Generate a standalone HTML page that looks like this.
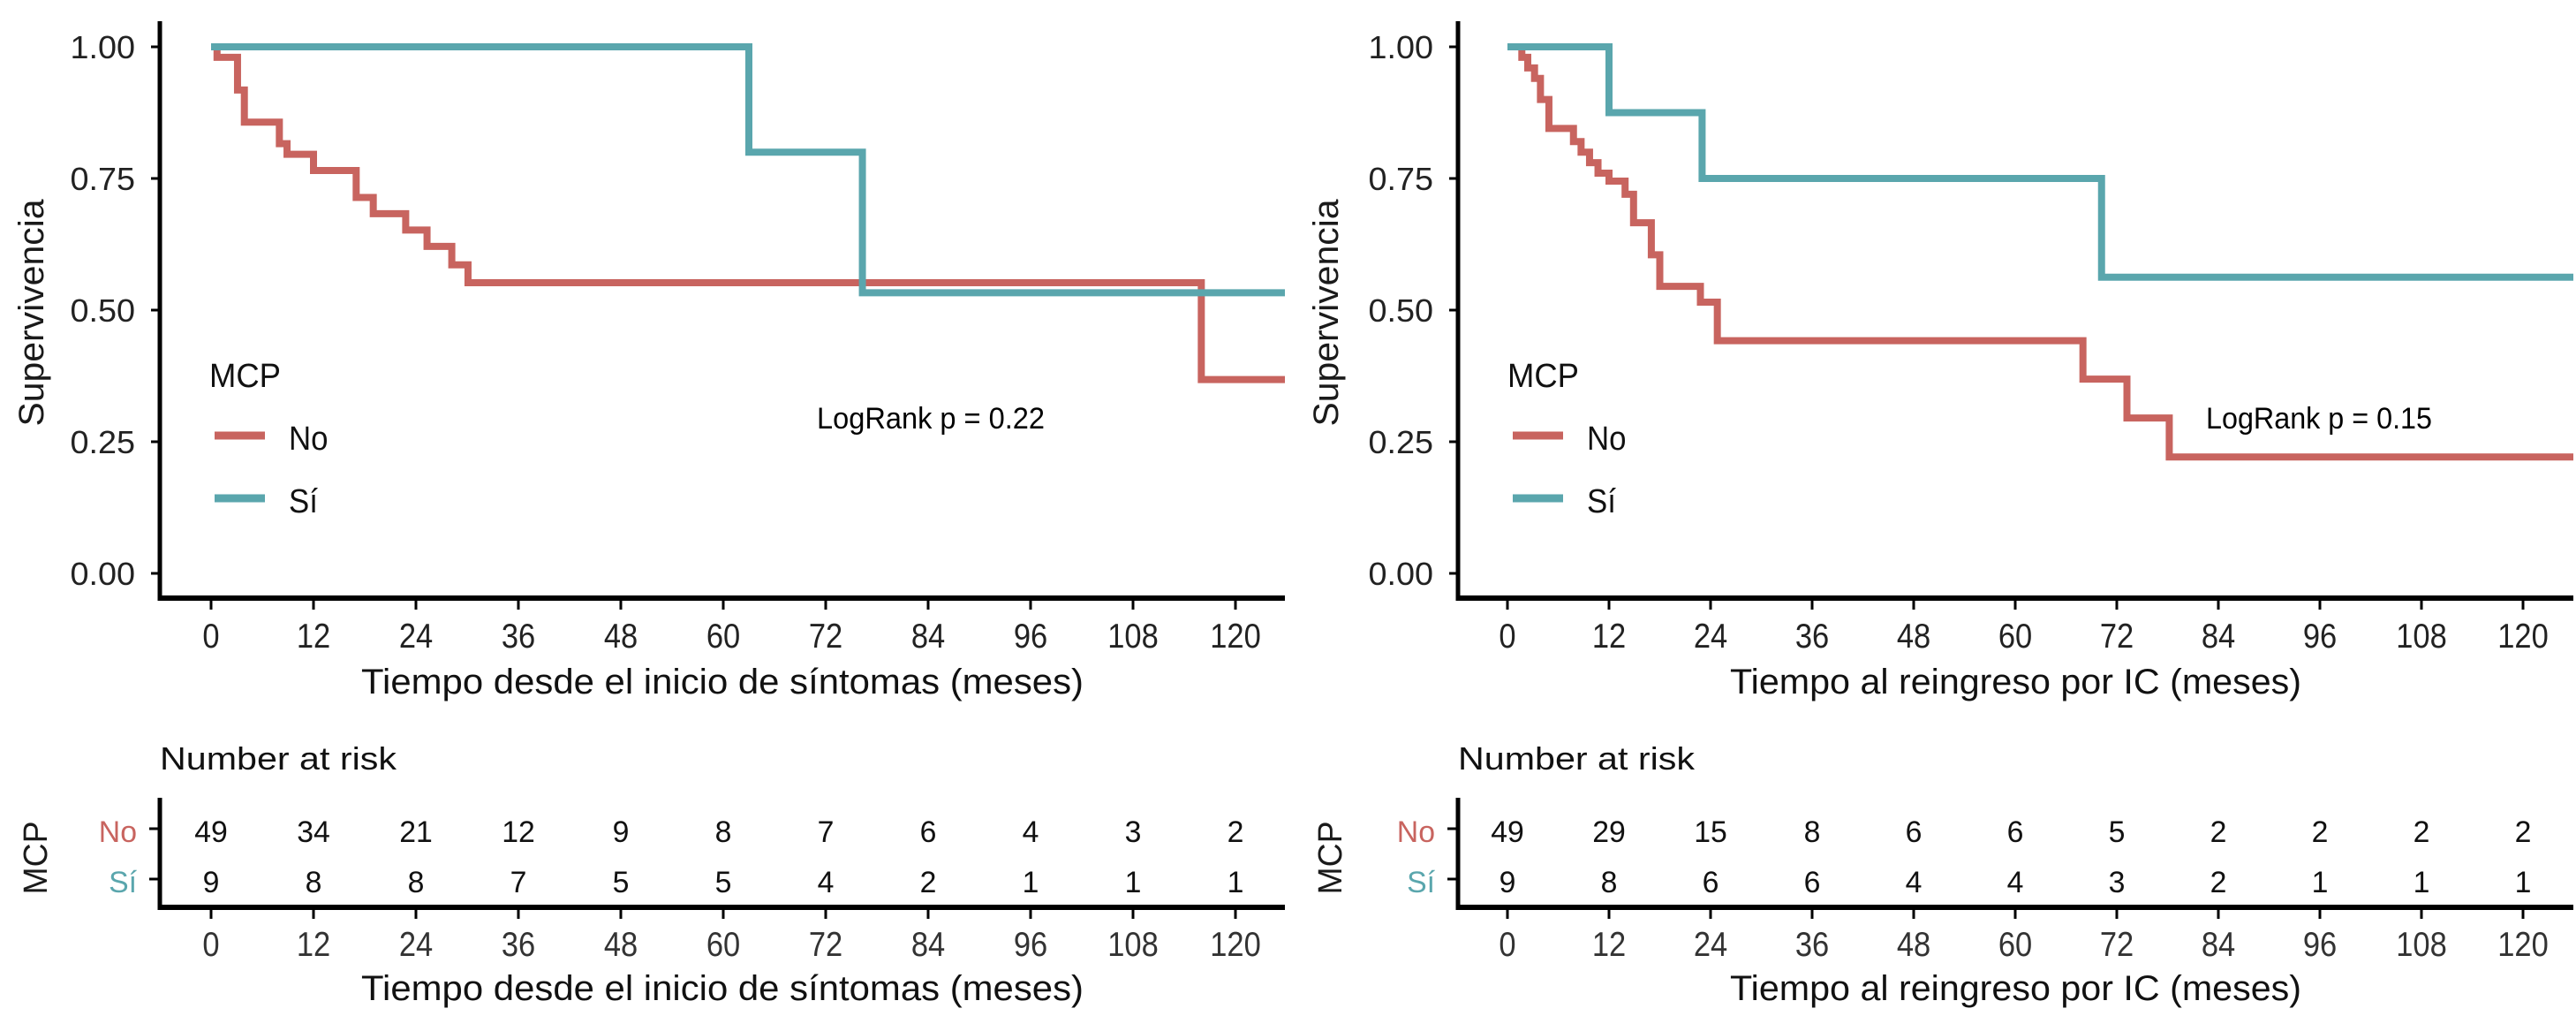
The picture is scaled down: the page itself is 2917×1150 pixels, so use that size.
<!DOCTYPE html>
<html><head><meta charset="utf-8"><title>Curvas Kaplan-Meier MCP</title>
<style>
html,body{margin:0;padding:0;background:#fff;}
svg{display:block;}
text{font-family:"Liberation Sans",Arial,sans-serif;fill:#1a1a1a;}
</style></head>
<body>
<svg id="fig" xmlns="http://www.w3.org/2000/svg" width="2917" height="1150" viewBox="0 0 2917 1150">
<rect width="2917" height="1150" fill="#fff"/>
</svg>
<script>
// ---- data ----
const tickMonths = [0,12,24,36,48,60,72,84,96,108,120];
const yTicks = [0,0.25,0.5,0.75,1];
const yTickLabels = ["0.00","0.25","0.50","0.75","1.00"];
const leftNoTimes = [0.7,3.1,3.9,8.0,8.9,12.0,17.0,19.0,22.8,25.3,28.2,30.1,116];
const leftNoSurv  = [0.980,0.918,0.857,0.816,0.796,0.765,0.714,0.683,0.652,0.621,0.586,0.552,0.368];
const leftSiTimes = [63,76.3];
const leftSiSurv  = [0.8,0.533];
const rightNoTimes = [1.7,2.4,3.2,3.9,4.9,7.8,8.7,9.7,10.7,12.0,13.9,14.9,17.0,18.0,22.8,24.8,68.0,73.2,78.2];
const rightNoSurv  = [0.98,0.96,0.94,0.90,0.845,0.82,0.80,0.78,0.76,0.745,0.72,0.666,0.605,0.545,0.515,0.442,0.369,0.295,0.221];
const rightSiTimes = [12,23,70.2];
const rightSiSurv  = [0.875,0.75,0.5625];
const leftRiskNo  = [49,34,21,12,9,8,7,6,4,3,2];
const leftRiskSi  = [9,8,8,7,5,5,4,2,1,1,1];
const rightRiskNo = [49,29,15,8,6,6,5,2,2,2,2];
const rightRiskSi = [9,8,6,6,4,4,3,2,1,1,1];
const leftTitle = "Tiempo desde el inicio de síntomas (meses)";
const rightTitle = "Tiempo al reingreso por IC (meses)";
const leftP = "LogRank p = 0.22";
const rightP = "LogRank p = 0.15";

const RED = "#c8645f", TEAL = "#5aa6ad";
const FS = 1.3;
const NS = "http://www.w3.org/2000/svg";
const svg = document.getElementById('fig');

function mk(tag, attrs, parent){
  const e = document.createElementNS(NS, tag);
  for (const k in attrs) e.setAttribute(k, attrs[k]);
  (parent||svg).appendChild(e);
  return e;
}
function txt(parent, s, x, y, size, anchor, sx, fill, len){
  const e = document.createElementNS(NS,'text');
  const k = sx / FS;
  e.setAttribute('transform','translate('+x+','+y+') scale('+k+',1)');
  e.setAttribute('font-size', size*FS);
  e.setAttribute('text-anchor', anchor);
  if (fill) e.setAttribute('style','fill:'+fill);
  if (len){ e.setAttribute('textLength', len/k); e.setAttribute('lengthAdjust','spacingAndGlyphs'); }
  e.textContent = s;
  parent.appendChild(e);
  return e;
}

function panel(cfg){
  const g = mk('g', {});
  
  
  const X = m => cfg.x0 + m * cfg.pxPerMonth;
  const Y = s => 649 - s * 596;
  const xEnd = cfg.right;
  const tmax = (xEnd - cfg.x0) / cfg.pxPerMonth;

  function curve(times, surv, color, nm){
    let d = 'M' + X(0) + ',' + Y(1);
    for (let i = 0; i < times.length; i++){
      d += ' H' + X(times[i]) + ' V' + Y(surv[i]);
    }
    d += ' H' + X(tmax);
    const p = mk('path', {d:d, fill:'none', stroke:color, 'stroke-width':8, 'stroke-linejoin':'miter'}, g);
    
    
  }
  curve(cfg.noT, cfg.noS, RED, 'curve-no');
  curve(cfg.siT, cfg.siS, TEAL, 'curve-si');

  const ya = mk('line', {x1:cfg.ax, y1:24, x2:cfg.ax, y2:680, stroke:'#000', 'stroke-width':5}, g);
  
  
  const xa = mk('line', {x1:cfg.ax-2, y1:677, x2:xEnd, y2:677, stroke:'#000', 'stroke-width':6}, g);
  
  

  yTicks.forEach((v,i)=>{
    const tk = mk('line', {x1:cfg.ax-10, y1:Y(v), x2:cfg.ax, y2:Y(v), stroke:'#000', 'stroke-width':3}, g);
    
    
    const t = txt(g, yTickLabels[i], cfg.ax-28, Y(v)+13, 28, 'end', 1.35, '#222');
    
    
  });
  tickMonths.forEach(m=>{
    const tk = mk('line', {x1:X(m), y1:677, x2:X(m), y2:690, stroke:'#000', 'stroke-width':3}, g);
    
    
    const t = txt(g, String(m), X(m), 733, 30, 'middle', 1.15, '#222');
    
    
  });

  const xt = txt(g, cfg.title, (cfg.ax+xEnd)/2, 785, 31, 'middle', 1.2, '#111', cfg.titleLen);
  
  

  const yt = document.createElementNS(NS,'text');
  yt.setAttribute('transform','translate('+(cfg.ytx+4)+',354) rotate(-90)');
  yt.setAttribute('font-size', 40);
  yt.setAttribute('text-anchor','middle');
  yt.setAttribute('textLength', 257);
  yt.setAttribute('lengthAdjust','spacingAndGlyphs');
  yt.textContent = 'Supervivencia';
  g.appendChild(yt);
  
  

  const lg = mk('g', {}, g);
  
  
  const lt = txt(lg, 'MCP', cfg.legX, 438, 29, 'start', 1.2, '#111', 81);
  
  
  const l1 = mk('line', {x1:cfg.legX+6, y1:493, x2:cfg.legX+63, y2:493, stroke:RED, 'stroke-width':9}, lg);
  
  
  const t1 = txt(lg, 'No', cfg.legX+90, 509, 29, 'start', 1.2, '#111');
  
  
  const l2 = mk('line', {x1:cfg.legX+6, y1:564, x2:cfg.legX+63, y2:564, stroke:TEAL, 'stroke-width':9}, lg);
  
  
  const t2 = txt(lg, 'Sí', cfg.legX+90, 580, 29, 'start', 1.2, '#111');
  
  

  const pv = txt(g, cfg.p, cfg.pX, 485, 26, 'start', 1, '#000', cfg.pLen);
  
  

  const rg = mk('g', {}, g);
  
  
  const nr = txt(rg, 'Number at risk', cfg.ax, 871, 28, 'start', 1.2, '#111', 268);
  
  
  const rv = mk('line', {x1:cfg.ax, y1:903, x2:cfg.ax, y2:1030, stroke:'#000', 'stroke-width':5}, rg);
  
  
  const rh = mk('line', {x1:cfg.ax-2, y1:1027, x2:xEnd, y2:1027, stroke:'#000', 'stroke-width':6}, rg);
  
  
  [[938,'No',RED,cfg.riskNo],[995,'Sí',TEAL,cfg.riskSi]].forEach(r=>{
    const tk = mk('line', {x1:cfg.ax-12, y1:r[0], x2:cfg.ax, y2:r[0], stroke:'#000', 'stroke-width':3}, rg);
    
    
    const lab = txt(rg, r[1], cfg.ax-26, r[0]+15, 26, 'end', 1.3, r[2]);
    
    
    r[3].forEach((v,i)=>{
      const t = txt(rg, String(v), X(tickMonths[i]), r[0]+15, 26, 'middle', 1.3, '#111');
      
      
    });
  });
  const mc = document.createElementNS(NS,'text');
  mc.setAttribute('transform','translate('+(cfg.ytx+8)+',971) rotate(-90)');
  mc.setAttribute('font-size', 38);
  mc.setAttribute('text-anchor','middle');
  mc.setAttribute('textLength', 83);
  mc.setAttribute('lengthAdjust','spacingAndGlyphs');
  mc.textContent = 'MCP';
  rg.appendChild(mc);
  
  
  tickMonths.forEach(m=>{
    const tk = mk('line', {x1:X(m), y1:1027, x2:X(m), y2:1040, stroke:'#000', 'stroke-width':3}, rg);
    
    
    const t = txt(rg, String(m), X(m), 1082, 30, 'middle', 1.15, '#333');
    
    
  });
  const bt = txt(rg, cfg.title, (cfg.ax+xEnd)/2, 1132, 31, 'middle', 1.2, '#111', cfg.titleLen);
  
  
}

panel({name:'left-panel', ax:181, x0:239, pxPerMonth:116/12, right:1455, ytx:45,
  noT:leftNoTimes, noS:leftNoSurv, siT:leftSiTimes, siS:leftSiSurv,
  riskNo:leftRiskNo, riskSi:leftRiskSi, title:leftTitle, titleLen:818,
  legX:237, p:leftP, pX:925, pLen:258});
panel({name:'right-panel', ax:1651, x0:1707, pxPerMonth:115/12, right:2914, ytx:1511,
  noT:rightNoTimes, noS:rightNoSurv, siT:rightSiTimes, siS:rightSiSurv,
  riskNo:rightRiskNo, riskSi:rightRiskSi, title:rightTitle, titleLen:647,
  legX:1707, p:rightP, pX:2498, pLen:256});
</script>
</body></html>
